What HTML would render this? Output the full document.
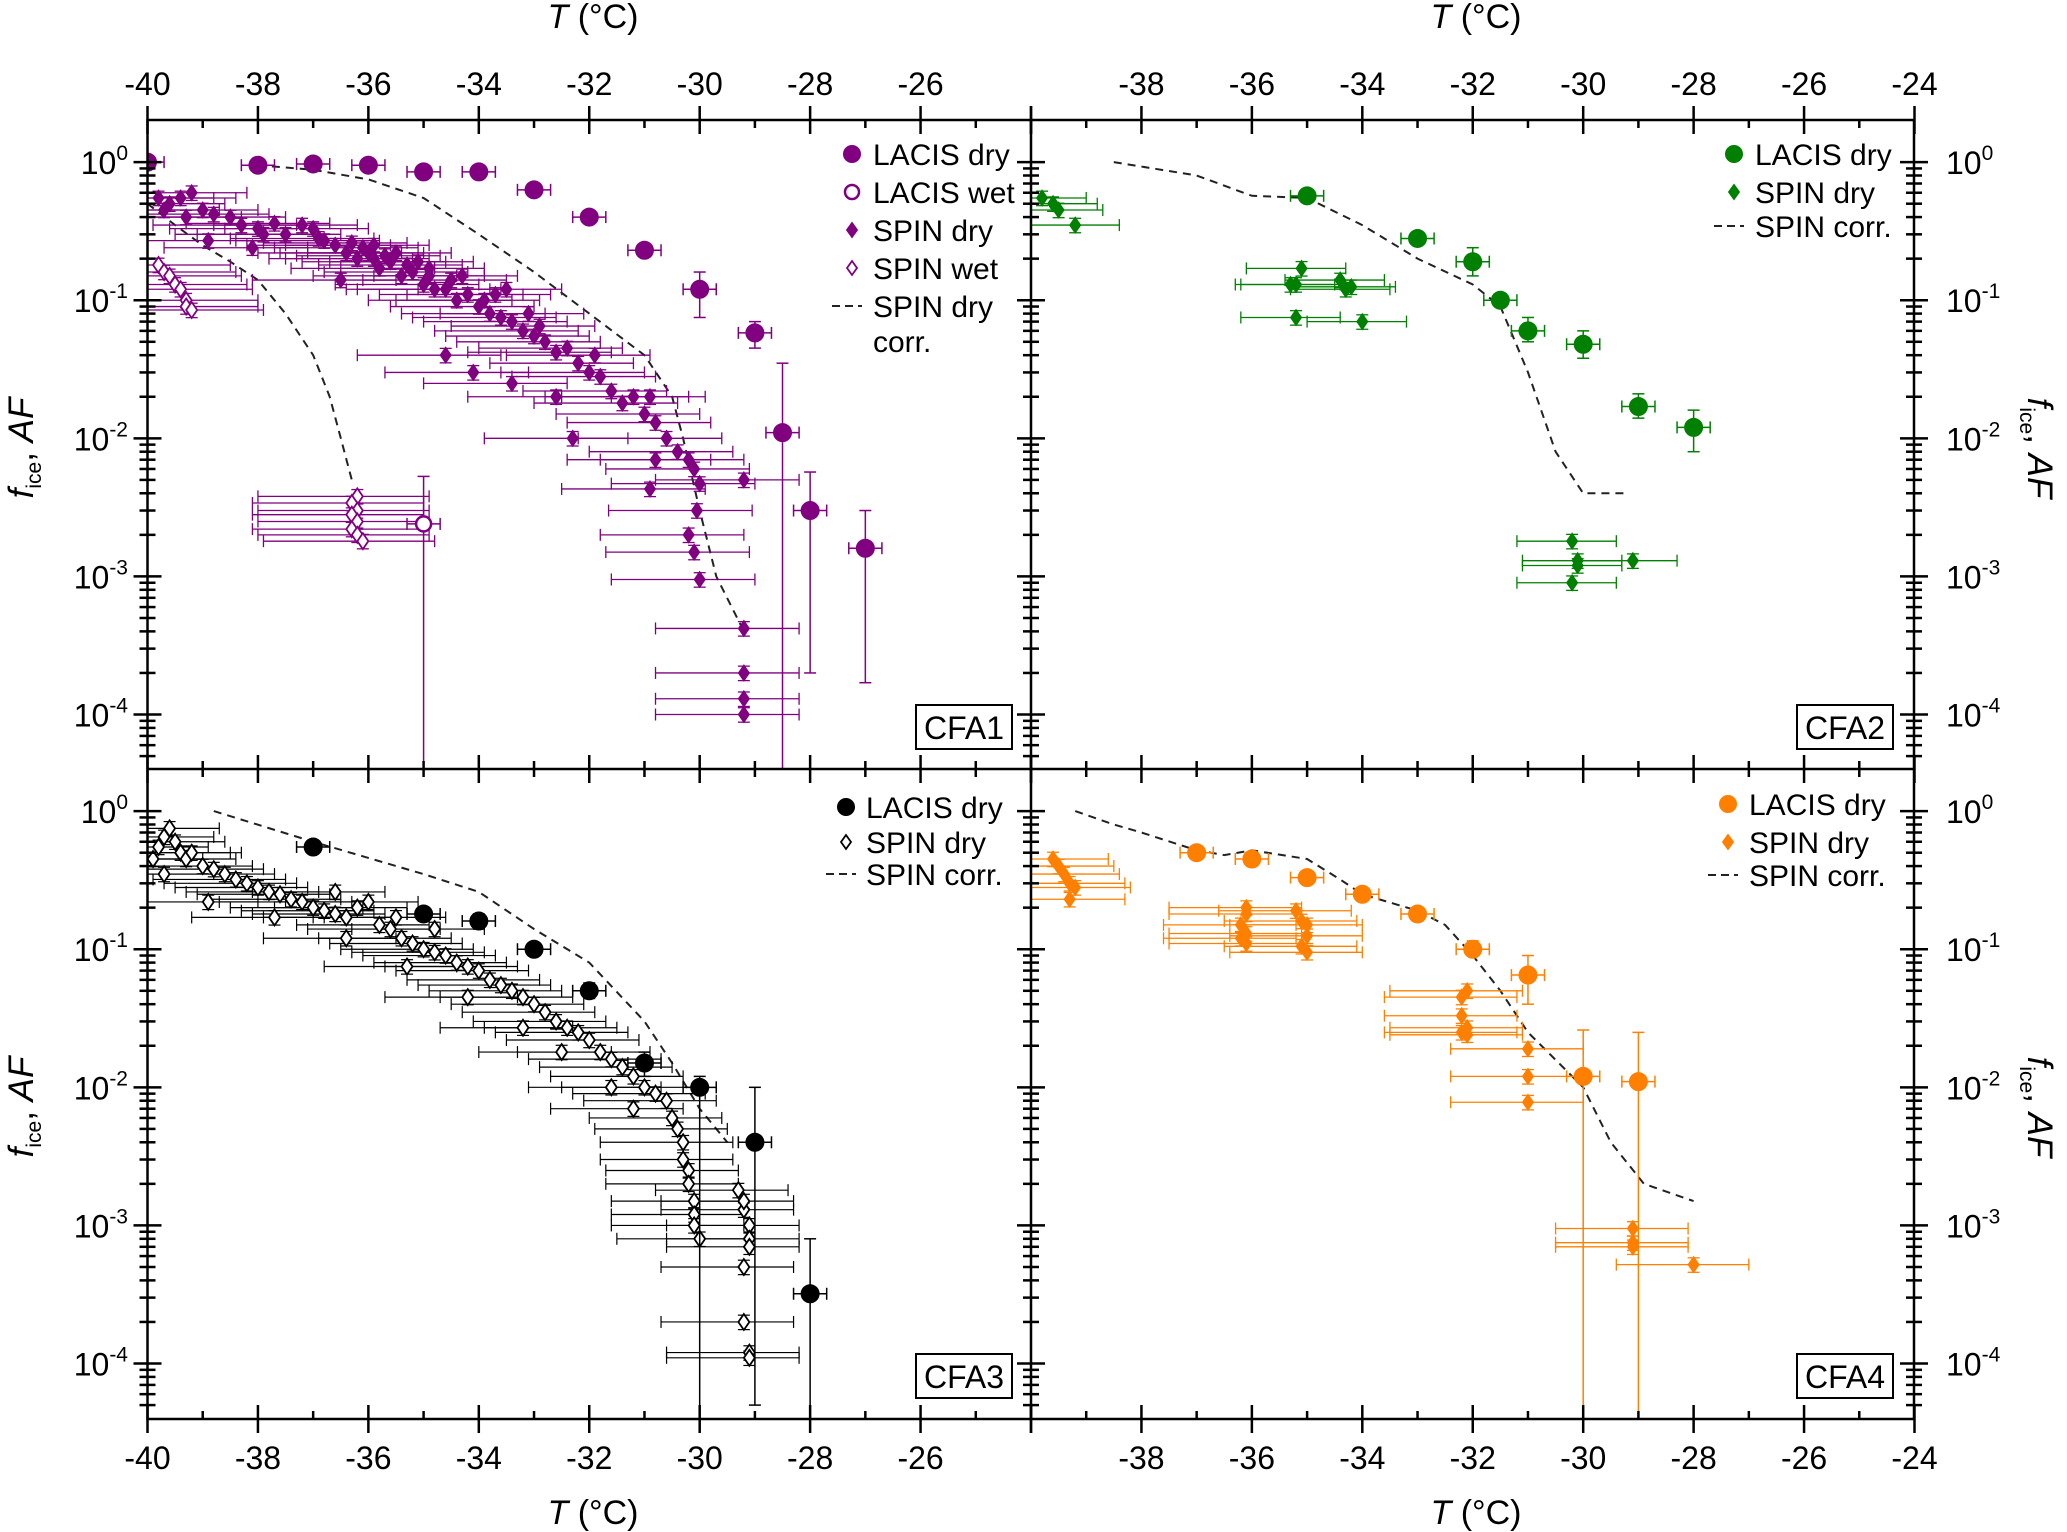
<!DOCTYPE html>
<html><head><meta charset="utf-8">
<style>
html,body{margin:0;padding:0;background:#fff;}
svg{display:block;font-family:"Liberation Sans",Arial,sans-serif;}
</style></head>
<body>
<svg id="fig" width="2067" height="1532" viewBox="0 0 2067 1532" xmlns="http://www.w3.org/2000/svg"></svg>
<script>
// ---------- DATA ----------
const xTickLabels = [-40,-38,-36,-34,-32,-30,-28,-26,-24];
const yTickExps = [0,-1,-2,-3,-4];

// CFA1
const cfa1LacisDryT = [-40,-38,-37,-36,-35,-34,-33,-32,-31,-30,-29,-28.5,-28,-27];
const cfa1LacisDryF = [1.0,0.95,0.97,0.95,0.85,0.85,0.63,0.40,0.23,0.12,0.058,0.011,0.003,0.0016];
const cfa1LacisDryLo = [0.9,0.9,0.9,0.9,0.8,0.8,0.6,0.37,0.21,0.075,0.045,0.00003,0.0002,0.00017];
const cfa1LacisDryHi = [1.05,1.0,1.03,1.0,0.9,0.9,0.67,0.43,0.25,0.16,0.07,0.035,0.0057,0.003];
const cfa1LacisWetT = [-35];
const cfa1LacisWetF = [0.0024];
const cfa1LacisWetLo = [0.00003];
const cfa1LacisWetHi = [0.0053];
const cfa1SpinDryT = [-39.8,-39.6,-39.4,-39.2,-39,-38.8,-38.5,-38.3,-38,-37.7,-37.5,-37.2,-37,-36.8,-36.6,-36.4,-36.2,-36,-35.8,-35.6,-35.4,-35.2,-35,-34.8,-34.6,-34.4,-34.2,-34,-33.8,-33.6,-33.4,-33.2,-33,-32.8,-32.6,-32.4,-32.2,-32,-31.8,-31.6,-31.4,-31.2,-31,-30.8,-30.6,-30.4,-30.2,-30.1,-30,-30.05,-30.2,-30.1,-30,-29.2,-29.2,-29.2,-29.2,-29.2,-30.9,-30.8,-38.9,-38.1,-36.5,-34.6,-34.1,-33.4,-32.6,-32.3,-39.7,-39.3,-37.9,-36.9,-35.9,-34.9,-33.9,-32.9,-31.9,-30.9,-36.3,-36.1,-35.9,-35.7,-35.5,-35.3,-35.1,-34.9,-34.5,-34.3,-33.7,-33.5,-33.1];
const cfa1SpinDryF = [0.55,0.5,0.55,0.6,0.45,0.42,0.4,0.35,0.33,0.36,0.3,0.35,0.33,0.27,0.25,0.22,0.2,0.22,0.17,0.19,0.15,0.16,0.13,0.12,0.12,0.1,0.11,0.09,0.08,0.075,0.07,0.06,0.055,0.05,0.042,0.045,0.035,0.03,0.028,0.022,0.018,0.02,0.015,0.013,0.01,0.008,0.007,0.006,0.0047,0.003,0.002,0.0015,0.00095,0.00042,0.0002,0.00013,0.0001,0.005,0.0043,0.007,0.27,0.24,0.14,0.04,0.03,0.025,0.02,0.01,0.45,0.4,0.3,0.28,0.2,0.15,0.1,0.065,0.04,0.02,0.26,0.24,0.25,0.21,0.22,0.18,0.19,0.17,0.14,0.15,0.11,0.12,0.08];
const cfa1SpinWetT = [-39.8,-39.7,-39.6,-39.5,-39.4,-39.3,-39.3,-39.2,-36.2,-36.3,-36.2,-36.3,-36.2,-36.3,-36.2,-36.1];
const cfa1SpinWetF = [0.18,0.16,0.15,0.13,0.12,0.1,0.09,0.085,0.0038,0.0034,0.003,0.0028,0.0025,0.0022,0.002,0.0018];
const cfa1Corr1T = [-38,-37,-36,-35,-34,-33,-32,-31,-30.5,-30.3,-30,-29.7,-29.2];
const cfa1Corr1F = [0.95,0.88,0.75,0.55,0.3,0.16,0.08,0.04,0.02,0.01,0.003,0.001,0.0004];
const cfa1Corr2T = [-40,-39.5,-39,-38.5,-38,-37.5,-37,-36.7,-36.5,-36.3];
const cfa1Corr2F = [0.5,0.35,0.25,0.19,0.14,0.08,0.04,0.02,0.01,0.005];

// CFA2
const cfa2LacisT = [-35,-33,-32,-31.5,-31,-30,-29,-28];
const cfa2LacisF = [0.57,0.28,0.19,0.1,0.06,0.048,0.017,0.012];
const cfa2LacisLo = [0.53,0.26,0.15,0.09,0.05,0.038,0.014,0.008];
const cfa2LacisHi = [0.61,0.3,0.24,0.11,0.075,0.06,0.021,0.016];
const cfa2SpinT = [-39.8,-39.6,-39.5,-39.2,-35.1,-35.2,-34.4,-34.3,-35.2,-34,-30.2,-30.1,-30.1,-30.2,-29.1,-34.2,-35.3];
const cfa2SpinF = [0.55,0.5,0.45,0.35,0.17,0.13,0.14,0.12,0.075,0.07,0.0018,0.0013,0.0012,0.0009,0.0013,0.125,0.13];
const cfa2CorrT = [-38.5,-37,-36,-35,-34,-33,-32,-31.5,-31,-30.5,-30,-29.2];
const cfa2CorrF = [1.0,0.8,0.57,0.55,0.35,0.2,0.13,0.09,0.03,0.008,0.004,0.004];

// CFA3
const cfa3LacisT = [-37,-35,-34,-33,-32,-31,-30,-29,-28];
const cfa3LacisF = [0.55,0.18,0.16,0.1,0.05,0.015,0.01,0.004,0.00032];
const cfa3LacisLo = [0.5,0.16,0.14,0.09,0.044,0.012,0.00003,0.00005,0.00003];
const cfa3LacisHi = [0.6,0.2,0.18,0.11,0.057,0.018,0.012,0.01,0.0008];
const cfa3SpinT = [-39.9,-39.8,-39.7,-39.6,-39.5,-39.4,-39.3,-39.2,-39,-38.8,-38.6,-38.4,-38.2,-38,-37.8,-37.6,-37.4,-37.2,-37,-36.8,-36.6,-36.4,-36.2,-36,-35.8,-35.6,-35.4,-35.2,-35,-34.8,-34.6,-34.4,-34.2,-34,-33.8,-33.6,-33.4,-33.2,-33,-32.8,-32.6,-32.4,-32.2,-32,-31.8,-31.6,-31.4,-31.2,-31,-30.8,-30.6,-30.5,-30.4,-30.3,-30.3,-30.2,-30.2,-30.1,-30.1,-30.1,-30,-29.2,-29.1,-29.1,-29.1,-29.2,-29.2,-29.1,-29.1,-29.3,-29.2,-39.7,-38.9,-37.7,-36.4,-35.3,-34.2,-33.2,-32.5,-31.6,-31.2,-36.6,-35.5,-34.8];
const cfa3SpinF = [0.45,0.55,0.65,0.75,0.6,0.5,0.45,0.5,0.4,0.38,0.35,0.32,0.3,0.28,0.26,0.25,0.23,0.22,0.2,0.19,0.18,0.17,0.2,0.22,0.15,0.14,0.12,0.11,0.1,0.095,0.09,0.08,0.075,0.07,0.06,0.055,0.05,0.045,0.04,0.035,0.03,0.027,0.025,0.022,0.018,0.016,0.014,0.012,0.01,0.009,0.008,0.006,0.005,0.004,0.003,0.0025,0.002,0.0015,0.0012,0.001,0.0008,0.0013,0.001,0.0008,0.0007,0.0005,0.0002,0.00012,0.00011,0.0018,0.0015,0.35,0.22,0.17,0.12,0.075,0.045,0.027,0.018,0.01,0.007,0.26,0.17,0.14];
const cfa3CorrT = [-38.8,-37,-35,-34,-33,-32,-31,-30.5,-30,-29.5];
const cfa3CorrF = [1.0,0.6,0.35,0.26,0.14,0.08,0.03,0.015,0.007,0.004];

// CFA4
const cfa4LacisT = [-37,-36,-35,-34,-33,-32,-31,-30,-29];
const cfa4LacisF = [0.5,0.45,0.33,0.25,0.18,0.1,0.065,0.012,0.011];
const cfa4LacisLo = [0.46,0.41,0.3,0.23,0.16,0.09,0.04,0.00003,0.00003];
const cfa4LacisHi = [0.54,0.5,0.36,0.27,0.2,0.115,0.09,0.026,0.025];
const cfa4SpinT = [-39.6,-39.5,-39.4,-39.3,-39.2,-39.3,-36.1,-36.1,-36.2,-36.1,-36.2,-36.1,-35.2,-35.1,-35,-35,-35.1,-35,-32.1,-32.2,-32.2,-32.1,-32.2,-32.1,-31,-31,-31,-29.1,-29.1,-29.1,-28];
const cfa4SpinF = [0.45,0.4,0.35,0.3,0.28,0.23,0.2,0.18,0.15,0.13,0.12,0.11,0.19,0.16,0.15,0.125,0.105,0.095,0.05,0.045,0.033,0.027,0.025,0.024,0.019,0.012,0.0078,0.00095,0.00075,0.0007,0.00052];
const cfa4CorrT = [-39.2,-38.5,-38,-37,-36.5,-36,-35,-34.4,-34,-33,-32.5,-32,-31.5,-31,-30,-29.5,-28.9,-28];
const cfa4CorrF = [1.0,0.8,0.7,0.52,0.48,0.52,0.45,0.32,0.25,0.19,0.15,0.09,0.05,0.025,0.01,0.004,0.002,0.0015];

// ---------- DRAWING ----------
const NS = "http://www.w3.org/2000/svg";
const svg = document.getElementById('fig');
const XL = 147.5, XM = 1031, XR = 1914, YT = 120, YM = 769, YB = 1419;
const PXDEG = (XM - XL) / 16, DEC = 138.1, TOPLOG = 0.305;

function mk(tag, attrs, parent) {
  const e = document.createElementNS(NS, tag);
  for (const k in attrs) e.setAttribute(k, attrs[k]);
  (parent || svg).appendChild(e);
  return e;
}
function panel(x0, y0) {
  return {
    xs: T => x0 + (T + 40) * PXDEG,
    ys: f => y0 + (TOPLOG - Math.log10(f)) * DEC,
    x0: x0, y0: y0
  };
}
const P = [panel(XL, YT), panel(XM, YT), panel(XL, YM), panel(XM, YM)];

const defs = mk('defs', {});
P.forEach((p, i) => {
  const cp = mk('clipPath', {id: 'clip' + i}, defs);
  mk('rect', {x: p.x0, y: p.y0, width: XM - XL, height: YM - YT}, cp);
});

function drawSeries(p, i, name, Ts, Fs, opts) {
  const g = mk('g', {'clip-path': 'url(#clip' + i + ')'});
  
  
  const c = opts.color;
  for (let k = 0; k < Ts.length; k++) {
    const x = p.xs(Ts[k]), y = p.ys(Fs[k]);
    const xl = p.xs(Ts[k] - opts.xlo), xr = p.xs(Ts[k] + opts.xhi);
    const yl = p.ys(opts.lo ? opts.lo[k] : Fs[k] * (1 - opts.ferr));
    const yh = p.ys(opts.hi ? opts.hi[k] : Fs[k] * (1 + opts.ferr));
    const sw = opts.ebw;
    mk('line', {x1: xl, y1: y, x2: xr, y2: y, stroke: c, 'stroke-width': sw}, g);
    mk('line', {x1: xl, y1: y - 6, x2: xl, y2: y + 6, stroke: c, 'stroke-width': sw}, g);
    mk('line', {x1: xr, y1: y - 6, x2: xr, y2: y + 6, stroke: c, 'stroke-width': sw}, g);
    mk('line', {x1: x, y1: yl, x2: x, y2: yh, stroke: c, 'stroke-width': sw}, g);
    mk('line', {x1: x - 6, y1: yl, x2: x + 6, y2: yl, stroke: c, 'stroke-width': sw}, g);
    mk('line', {x1: x - 6, y1: yh, x2: x + 6, y2: yh, stroke: c, 'stroke-width': sw}, g);
  }
  for (let k = 0; k < Ts.length; k++) {
    const x = p.xs(Ts[k]), y = p.ys(Fs[k]);
    let m;
    if (opts.shape === 'circle') {
      m = mk('circle', {cx: x, cy: y, r: opts.open ? 7.5 : 9, fill: opts.open ? '#fff' : c, stroke: c, 'stroke-width': opts.open ? 2.5 : 1}, g);
    } else {
      m = mk('polygon', {points: `${x},${y-8} ${x+5.5},${y} ${x},${y+8} ${x-5.5},${y}`, fill: opts.open ? '#fff' : c, stroke: c, 'stroke-width': opts.open ? 1.8 : 1}, g);
    }
    
    
  }
}
function drawLine(p, i, name, Ts, Fs) {
  const d = Ts.map((t, k) => (k ? 'L' : 'M') + p.xs(t).toFixed(1) + ',' + p.ys(Fs[k]).toFixed(1)).join(' ');
  const e = mk('path', {d: d, fill: 'none', stroke: '#222', 'stroke-width': 2, 'stroke-dasharray': '8,6', 'clip-path': 'url(#clip' + i + ')'});
  
  
}

const PURPLE = '#800080', GREEN = '#008000', BLACK = '#000', ORANGE = '#ff8000';
drawLine(P[0], 0, 'cfa1-spin-dry-corr-line', cfa1Corr1T, cfa1Corr1F);
drawLine(P[0], 0, 'cfa1-spin-wet-corr-line', cfa1Corr2T, cfa1Corr2F);
drawSeries(P[0], 0, 'cfa1-spin-dry', cfa1SpinDryT, cfa1SpinDryF, {color: PURPLE, shape: 'diamond', xlo: 1.6, xhi: 1.0, ferr: 0.12, ebw: 1.3});
drawSeries(P[0], 0, 'cfa1-spin-wet', cfa1SpinWetT, cfa1SpinWetF, {color: PURPLE, shape: 'diamond', open: true, xlo: 1.8, xhi: 1.3, ferr: 0.12, ebw: 1.3});
drawSeries(P[0], 0, 'cfa1-lacis-dry', cfa1LacisDryT, cfa1LacisDryF, {color: PURPLE, shape: 'circle', xlo: 0.3, xhi: 0.3, lo: cfa1LacisDryLo, hi: cfa1LacisDryHi, ebw: 1.5});
drawSeries(P[0], 0, 'cfa1-lacis-wet', cfa1LacisWetT, cfa1LacisWetF, {color: PURPLE, shape: 'circle', open: true, xlo: 0.3, xhi: 0.3, lo: cfa1LacisWetLo, hi: cfa1LacisWetHi, ebw: 1.5});
drawLine(P[1], 1, 'cfa2-spin-corr-line', cfa2CorrT, cfa2CorrF);
drawSeries(P[1], 1, 'cfa2-spin-dry', cfa2SpinT, cfa2SpinF, {color: GREEN, shape: 'diamond', xlo: 1.0, xhi: 0.8, ferr: 0.12, ebw: 1.3});
drawSeries(P[1], 1, 'cfa2-lacis-dry', cfa2LacisT, cfa2LacisF, {color: GREEN, shape: 'circle', xlo: 0.3, xhi: 0.3, lo: cfa2LacisLo, hi: cfa2LacisHi, ebw: 1.5});
drawLine(P[2], 2, 'cfa3-spin-corr-line', cfa3CorrT, cfa3CorrF);
drawSeries(P[2], 2, 'cfa3-spin-dry', cfa3SpinT, cfa3SpinF, {color: BLACK, shape: 'diamond', open: true, xlo: 1.5, xhi: 0.9, ferr: 0.12, ebw: 1.2});
drawSeries(P[2], 2, 'cfa3-lacis-dry', cfa3LacisT, cfa3LacisF, {color: BLACK, shape: 'circle', xlo: 0.3, xhi: 0.3, lo: cfa3LacisLo, hi: cfa3LacisHi, ebw: 1.5});
drawLine(P[3], 3, 'cfa4-spin-corr-line', cfa4CorrT, cfa4CorrF);
drawSeries(P[3], 3, 'cfa4-spin-dry', cfa4SpinT, cfa4SpinF, {color: ORANGE, shape: 'diamond', xlo: 1.4, xhi: 1.0, ferr: 0.12, ebw: 1.3});
drawSeries(P[3], 3, 'cfa4-lacis-dry', cfa4LacisT, cfa4LacisF, {color: ORANGE, shape: 'circle', xlo: 0.3, xhi: 0.3, lo: cfa4LacisLo, hi: cfa4LacisHi, ebw: 1.5});

// ---------- AXES ----------
const axg = mk('g', {stroke: '#000', 'stroke-width': 2.5, fill: 'none'});


mk('rect', {x: XL, y: YT, width: XR - XL, height: YB - YT}, axg);
mk('line', {x1: XM, y1: YT, x2: XM, y2: YB}, axg);
mk('line', {x1: XL, y1: YM, x2: XR, y2: YM}, axg);

[YT, YM, YB].forEach(yy => {
  [XL, XM].forEach(x0 => {
    for (let T = -40; T <= -24; T++) {
      const x = x0 + (T + 40) * PXDEG;
      const major = (T % 2 === 0);
      const len = major ? 14 : 8;
      mk('line', {x1: x, y1: yy - (major ? len : (yy === YT ? 0 : len)), x2: x, y2: yy + (major ? len : (yy === YB ? 0 : len))}, axg);
    }
  });
});
[XL, XM, XR].forEach(xx => {
  [YT, YM].forEach(y0 => {
    for (let e = 0; e >= -5; e--) {
      for (let m = 1; m <= 9; m++) {
        const f = m * Math.pow(10, e);
        const y = y0 + (TOPLOG - Math.log10(f)) * DEC;
        if (y < y0 + 1 || y > y0 + (YM - YT) - 1) continue;
        const len = m === 1 ? 14 : 8;
        mk('line', {x1: xx - len, y1: y, x2: xx + len, y2: y}, axg);
      }
    }
  });
});

function txt(x, y, s, attrs, name) {
  const t = mk('text', Object.assign({x: x, y: y, 'font-size': 32, fill: '#000'}, attrs || {}));
  t.textContent = s;
  
  
  return t;
}
[XL, XM].forEach((x0, pi) => {
  xTickLabels.forEach(T => {
    if (pi === 0 && T === -24) return;
    if (pi === 1 && T === -40) return;
    const x = x0 + (T + 40) * PXDEG;
    txt(x, 95, String(T), {'text-anchor': 'middle'}, 'top-x-tick-label');
    txt(x, 1469, String(T), {'text-anchor': 'middle'}, 'bottom-x-tick-label');
  });
});
[YT, YM].forEach(y0 => {
  yTickExps.forEach(e => {
    const y = y0 + (TOPLOG - e) * DEC;
    const l = txt(128, y + 12, '', {'text-anchor': 'end'}, 'left-y-tick-label');
    l.innerHTML = '10<tspan dy="-14" font-size="21">' + e + '</tspan>';
    const r = txt(1946, y + 12, '', {}, 'right-y-tick-label');
    r.innerHTML = '10<tspan dy="-14" font-size="21">' + e + '</tspan>';
  });
});
[593, 1476].forEach(cx => {
  const t1 = txt(cx, 28, '', {'text-anchor': 'middle', 'font-size': 34}, 'top-x-axis-title');
  t1.innerHTML = '<tspan font-style="italic">T</tspan> (°C)';
  const t2 = txt(cx, 1524, '', {'text-anchor': 'middle', 'font-size': 34}, 'bottom-x-axis-title');
  t2.innerHTML = '<tspan font-style="italic">T</tspan> (°C)';
});
[448, 1107].forEach(cy => {
  const l = txt(0, 0, '', {'text-anchor': 'middle', 'font-size': 35, transform: `translate(33,${cy}) rotate(-90)`}, 'left-y-axis-title');
  l.innerHTML = '<tspan font-style="italic">f</tspan><tspan font-size="21" dy="8">ice</tspan><tspan dy="-8">, </tspan><tspan font-style="italic">AF</tspan>';
  const r = txt(0, 0, '', {'text-anchor': 'middle', 'font-size': 35, transform: `translate(2028,${cy}) rotate(90)`}, 'right-y-axis-title');
  r.innerHTML = '<tspan font-style="italic">f</tspan><tspan font-size="21" dy="8">ice</tspan><tspan dy="-8">, </tspan><tspan font-style="italic">AF</tspan>';
});

function boxLabel(x, y, s, name) {
  const r = mk('rect', {x: x, y: y, width: 96, height: 44, fill: '#fff', stroke: '#000', 'stroke-width': 2});
  
  
  txt(x + 48, y + 34, s, {'text-anchor': 'middle', 'font-size': 32}, name);
}
boxLabel(916, 705, 'CFA1', 'panel-label-cfa1');
boxLabel(1797, 705, 'CFA2', 'panel-label-cfa2');
boxLabel(916, 1354, 'CFA3', 'panel-label-cfa3');
boxLabel(1797, 1354, 'CFA4', 'panel-label-cfa4');

function legend(mx, tx, rows, color, name) {
  const g = mk('g', {});
  
  
  rows.forEach(r => {
    const y = r.y;
    if (r.kind === 'circle') mk('circle', {cx: mx, cy: y, r: r.open ? 7 : 8.5, fill: r.open ? '#fff' : color, stroke: color, 'stroke-width': r.open ? 2.5 : 1}, g);
    if (r.kind === 'diamond') mk('polygon', {points: `${mx},${y-7} ${mx+5},${y} ${mx},${y+7} ${mx-5},${y}`, fill: r.open ? '#fff' : color, stroke: color, 'stroke-width': 1.8}, g);
    if (r.kind === 'dash') mk('line', {x1: mx - 20, y1: y, x2: mx + 10, y2: y, stroke: '#222', 'stroke-width': 2, 'stroke-dasharray': '8,5'}, g);
    const t = mk('text', {x: tx, y: y + 11, 'font-size': 30, fill: '#000'}, g);
    t.textContent = r.label;
    
    
  });
}
legend(852, 873, [
  {y: 154, kind: 'circle', label: 'LACIS dry'},
  {y: 192, kind: 'circle', open: true, label: 'LACIS wet'},
  {y: 230, kind: 'diamond', label: 'SPIN dry'},
  {y: 268, kind: 'diamond', open: true, label: 'SPIN wet'},
  {y: 306, kind: 'dash', label: 'SPIN dry'},
  {y: 341, kind: 'none', label: 'corr.'}
], PURPLE, 'legend-cfa1');
legend(1734, 1755, [
  {y: 154, kind: 'circle', label: 'LACIS dry'},
  {y: 192, kind: 'diamond', label: 'SPIN dry'},
  {y: 226, kind: 'dash', label: 'SPIN corr.'}
], GREEN, 'legend-cfa2');
legend(846, 866, [
  {y: 807, kind: 'circle', label: 'LACIS dry'},
  {y: 842, kind: 'diamond', open: true, label: 'SPIN dry'},
  {y: 874, kind: 'dash', label: 'SPIN corr.'}
], BLACK, 'legend-cfa3');
legend(1728, 1749, [
  {y: 804, kind: 'circle', label: 'LACIS dry'},
  {y: 842, kind: 'diamond', label: 'SPIN dry'},
  {y: 875, kind: 'dash', label: 'SPIN corr.'}
], ORANGE, 'legend-cfa4');
</script>
</body></html>
